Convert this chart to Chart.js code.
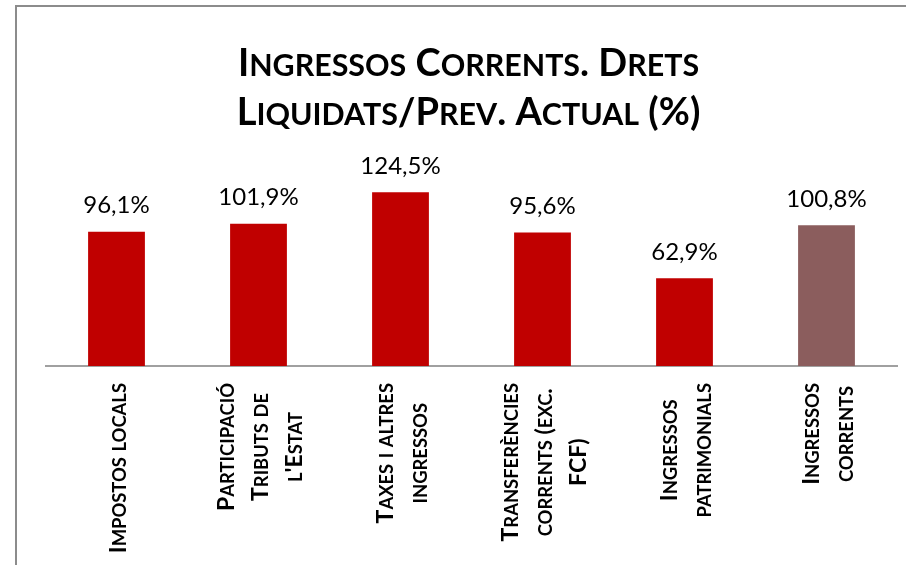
<!DOCTYPE html>
<html><head><meta charset="utf-8">
<script src="https://cdn.jsdelivr.net/npm/chart.js@4/dist/chart.umd.min.js"></script>
<style>html,body{margin:0;padding:0;background:#fff;overflow:hidden}</style>
</head><body>
<canvas id="c" width="906" height="565"></canvas>
<script>
const titleLines = ["Ingressos Corrents. Drets", "Liquidats/Prev. Actual (%)"];
const categories = [
  ["Impostos locals"],
  ["Participació", "Tributs de", "l'Estat"],
  ["Taxes i altres", "ingressos"],
  ["Transferències", "corrents (exc.", "FCF)"],
  ["Ingressos", "patrimonials"],
  ["Ingressos", "corrents"]
];
const values = [96.1, 101.9, 124.5, 95.6, 62.9, 100.8];
const valueLabels = ["96,1%", "101,9%", "124,5%", "95,6%", "62,9%", "100,8%"];
const barColors = ["#C00000", "#C00000", "#C00000", "#C00000", "#C00000", "#8B5D5D"];
const yMin = 0, yMax = 140;

const FONT = "Lato";
const SC = 0.8; // small-caps size ratio
const PAD = { left: 39.5, right: 8.5, top: 170.6, bottom: 199 };

function scRuns(text) {
  const out = [];
  for (const ch of text) {
    const small = ch !== ch.toUpperCase();
    const c = small ? ch.toUpperCase() : ch;
    if (out.length && out[out.length - 1].small === small) out[out.length - 1].t += c;
    else out.push({ t: c, small });
  }
  return out;
}
function scFont(r, size, weight) {
  return weight + ' ' + (r.small ? size * SC : size) + 'px ' + FONT;
}
function scWidth(ctx, text, size, weight) {
  let w = 0;
  for (const r of scRuns(text)) { ctx.font = scFont(r, size, weight); w += ctx.measureText(r.t).width; }
  return w;
}
function drawSC(ctx, text, cx, baseline, size, weight) {
  const w = scWidth(ctx, text, size, weight);
  let x = cx - w / 2;
  ctx.textAlign = 'left';
  ctx.textBaseline = 'alphabetic';
  for (const r of scRuns(text)) {
    ctx.font = scFont(r, size, weight);
    ctx.fillText(r.t, x, baseline);
    x += ctx.measureText(r.t).width;
  }
  return w;
}

const framePlugin = {
  id: 'frame',
  beforeDraw(chart) {
    const ctx = chart.ctx;
    ctx.save();
    ctx.fillStyle = '#fff';
    ctx.fillRect(0, 0, chart.width, chart.height);
    ctx.strokeStyle = '#8C8C8C';
    ctx.lineWidth = 2;
    ctx.beginPath();
    ctx.moveTo(16, chart.height);
    ctx.lineTo(16, 6);
    ctx.lineTo(chart.width, 6);
    ctx.stroke();
    ctx.restore();
  }
};

const titlePlugin = {
  id: 'scTitle',
  afterDraw(chart) {
    const ctx = chart.ctx;
    ctx.save();
    ctx.fillStyle = '#000';
    const cx = (PAD.left + chart.width - PAD.right) / 2;
    drawSC(ctx, titleLines[0], cx, 76, 38, 'bold');
    drawSC(ctx, titleLines[1], cx, 125, 38, 'bold');
    ctx.restore();
  }
};

const valueLabelPlugin = {
  id: 'valueLabels',
  afterDatasetsDraw(chart) {
    const ctx = chart.ctx;
    const meta = chart.getDatasetMeta(0);
    ctx.save();
    ctx.font = '24px ' + FONT;
    ctx.fillStyle = '#000';
    ctx.textAlign = 'center';
    ctx.textBaseline = 'alphabetic';
    meta.data.forEach((bar, i) => {
      ctx.fillText(valueLabels[i], bar.x, bar.y - 18.5);
    });
    ctx.restore();
  }
};

const xLabelPlugin = {
  id: 'xLabels',
  afterDraw(chart) {
    const ctx = chart.ctx;
    const scale = chart.scales.x;
    const size = 23;
    const capH = size * 0.716;
    ctx.save();
    ctx.fillStyle = '#000';
    categories.forEach((lines, i) => {
      const x = scale.getPixelForTick(i) + 1;
      const maxW = Math.max(...lines.map(l => scWidth(ctx, l, size, 'bold')));
      const cy = scale.top + 17 + maxW / 2;
      const n = lines.length;
      lines.forEach((line, j) => {
        const lx = x + (j - (n - 1) / 2) * 34;
        ctx.save();
        ctx.translate(lx, cy);
        ctx.rotate(-Math.PI / 2);
        drawSC(ctx, line, 0, capH / 2, size, 'bold');
        ctx.restore();
      });
    });
    ctx.restore();
  }
};

new Chart(document.getElementById('c'), {
  type: 'bar',
  data: {
    labels: categories,
    datasets: [{
      data: values,
      backgroundColor: barColors,
      borderWidth: 0,
      categoryPercentage: 0.8,
      barPercentage: 0.5
    }]
  },
  options: {
    responsive: false,
    animation: false,
    devicePixelRatio: 1,
    layout: { padding: PAD },
    plugins: {
      legend: { display: false },
      tooltip: { enabled: false },
      title: { display: false }
    },
    scales: {
      x: {
        grid: { display: false, drawTicks: false },
        ticks: { display: false },
        border: { display: true, color: '#A0A0A0', width: 2 },
        afterFit(s) { s.height = 0; }
      },
      y: {
        min: yMin, max: yMax,
        grid: { display: false, drawTicks: false },
        ticks: { display: false },
        border: { display: false },
        afterFit(s) { s.width = 6; }
      }
    }
  },
  plugins: [framePlugin, titlePlugin, valueLabelPlugin, xLabelPlugin]
});
</script>
</body></html>
